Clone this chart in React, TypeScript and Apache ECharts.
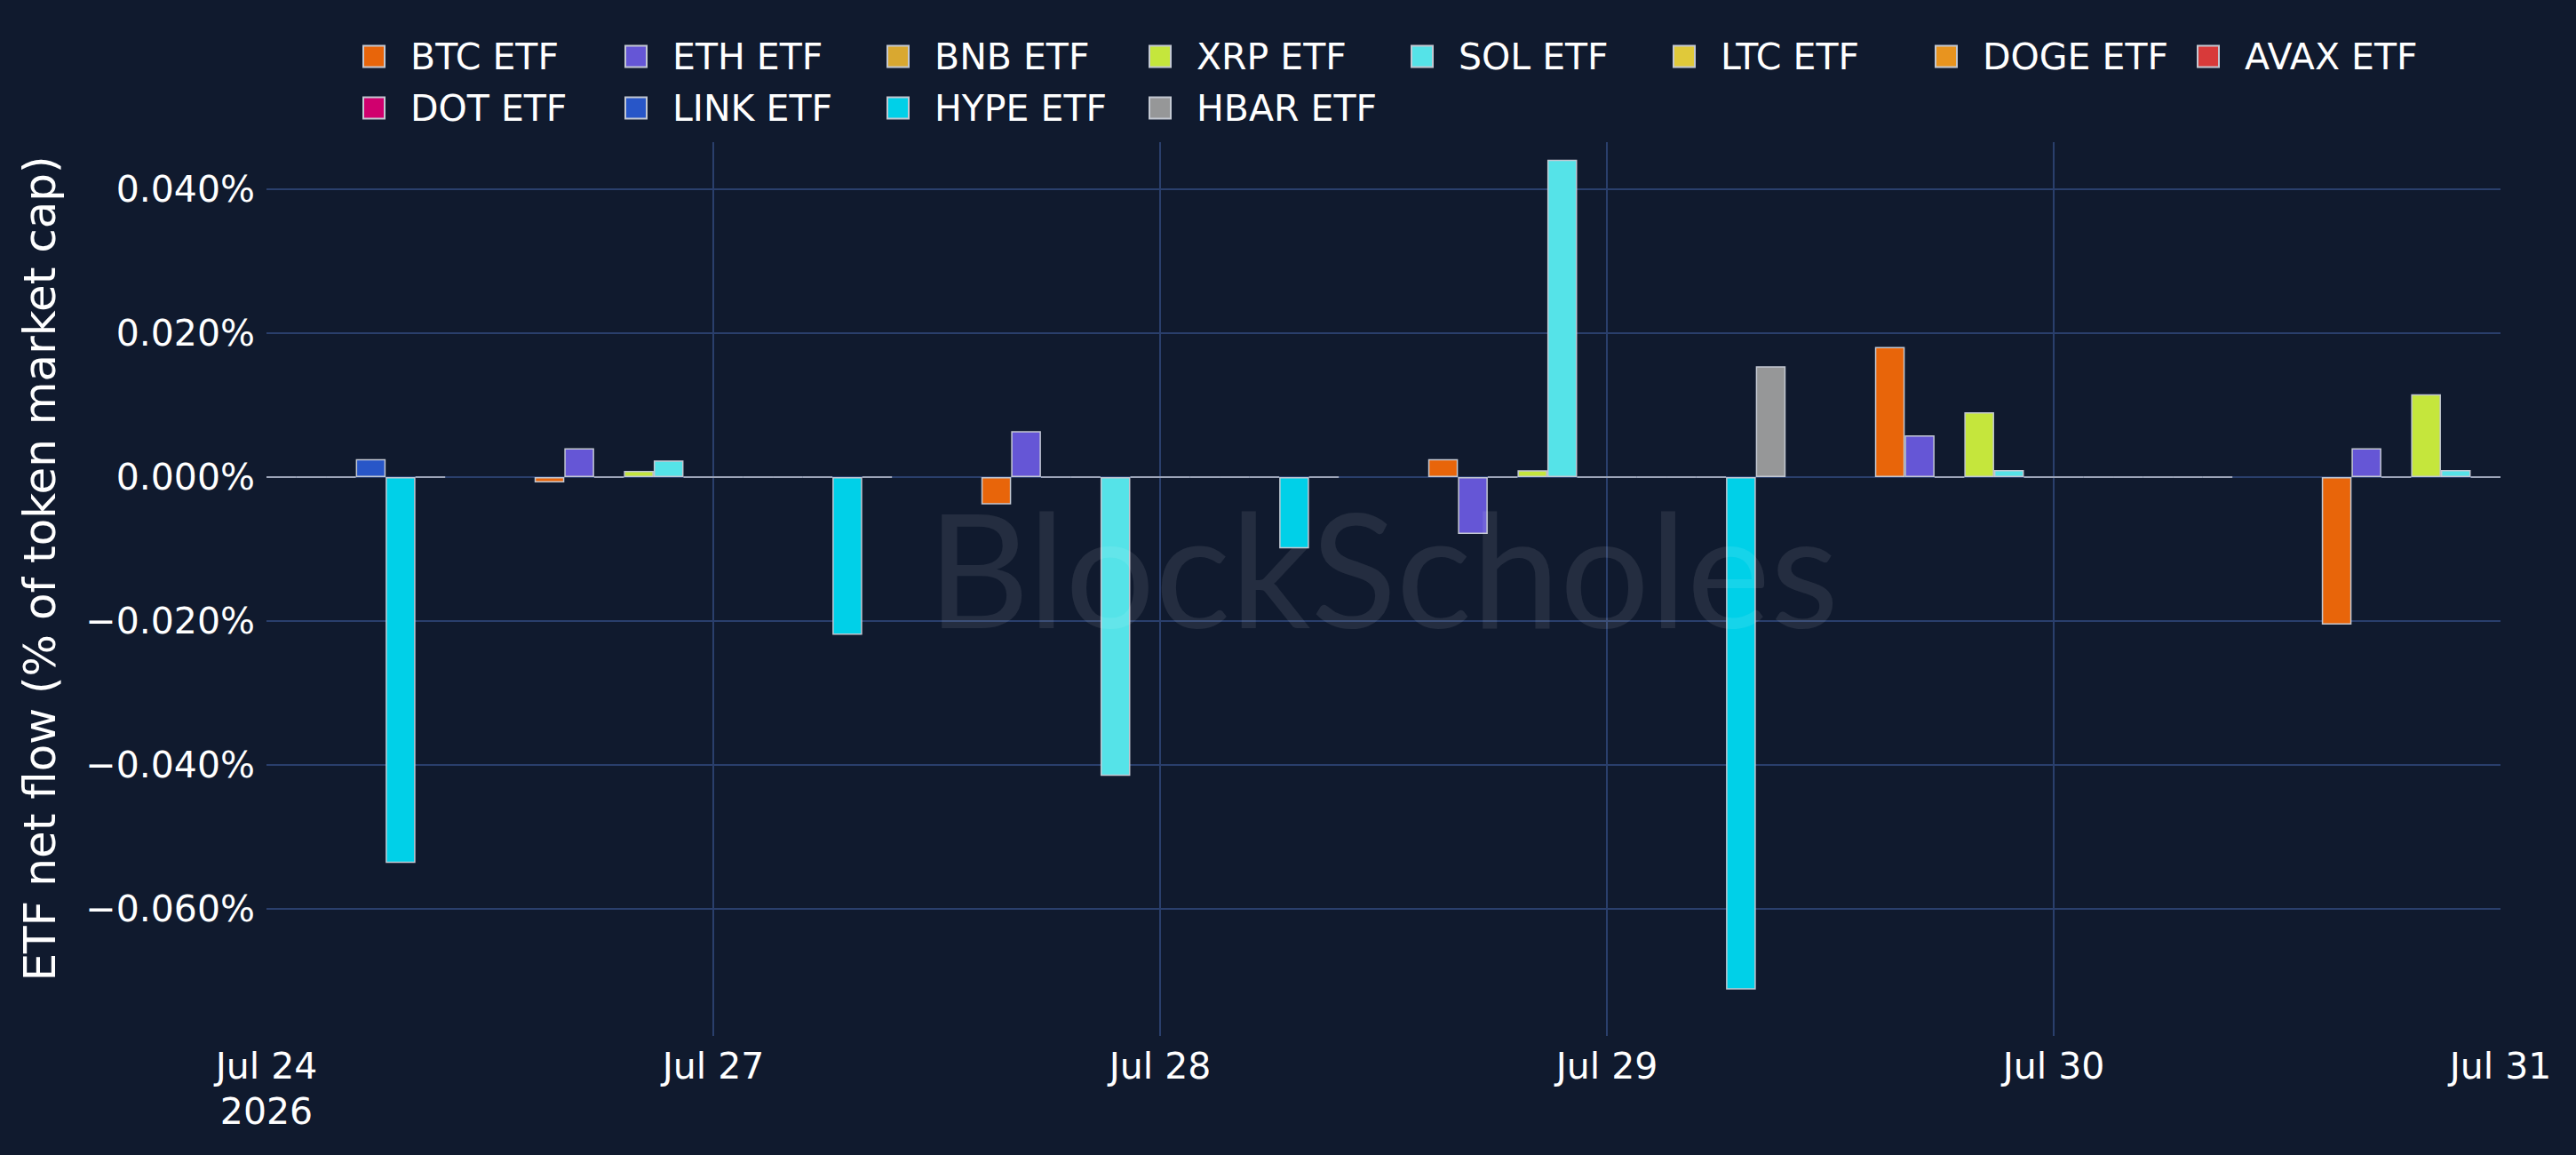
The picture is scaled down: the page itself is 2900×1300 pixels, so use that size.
import React, { useEffect, useRef } from 'react';
import * as echarts from 'echarts';

const categories = ['Jul 24\n2026', 'Jul 27', 'Jul 28', 'Jul 29', 'Jul 30', 'Jul 31'];

const seriesNames = [
    'BTC ETF', 'ETH ETF', 'BNB ETF', 'XRP ETF', 'SOL ETF', 'LTC ETF',
    'DOGE ETF', 'AVAX ETF', 'DOT ETF', 'LINK ETF', 'HYPE ETF', 'HBAR ETF',
];

const seriesColors = [
    '#E8650A', '#6556D6', '#D9A830', '#C5E63C', '#55E3E8', '#E0C93A',
    '#E8941F', '#D83A3A', '#D0006E', '#2856C8', '#00D0E8', '#969798',
];

// net flow, % of token market cap
const btc = [0, -0.00075, -0.0038, 0.0025, 0.0181, -0.0205];
const eth = [0, 0.004, 0.0064, -0.0079, 0.0058, 0.004];
const bnb = [0, 0, 0, 0, 0, 0];
const xrp = [0, 0.00085, 0, 0.00095, 0.009, 0.0115];
const sol = [0, 0.0023, -0.0415, 0.0441, 0.001, 0.001];
const ltc = [0, 0, 0, 0, 0, 0];
const doge = [0, 0, 0, 0, 0, 0];
const avax = [0, 0, 0, 0, 0, 0];
const dot = [0, 0, 0, 0, 0, 0];
const link = [0.0025, 0, 0, 0, 0, 0];
const hype = [-0.0536, -0.0219, -0.0099, -0.0712, 0, 0];
const hbar = [0, 0, 0, 0.0154, 0, 0];

const seriesValues = [btc, eth, bnb, xrp, sol, ltc, doge, avax, dot, link, hype, hbar];

const yMin = -0.07765;
const yMax = 0.04654;

const BG = '#101a2e';
const GRID = '#2a3f6c';
const FONT = 'DejaVu Sans';

const fmtPct = (v: number) => (v < 0 ? '\u2212' : '') + Math.abs(v).toFixed(3) + '%';

const App: React.FC = () => {
    const chartRef = useRef<HTMLDivElement>(null);

    useEffect(() => {
        const chartDom = chartRef.current!;
        const myChart = echarts.init(chartDom, undefined, { renderer: 'svg' });

        const yBase = {
            type: 'value' as const,
            min: yMin,
            max: yMax,
            minInterval: 0.02,
            maxInterval: 0.02,
            position: 'left' as const,
            axisLine: { show: false },
            axisTick: { show: false },
        };

        const option: echarts.EChartsOption = {
            animation: false,
            backgroundColor: BG,
            textStyle: { fontFamily: FONT },
            grid: { left: 300, right: 85, top: 160, bottom: 134, containLabel: false },
            legend: {
                left: 408,
                top: 37,
                width: 2400,
                padding: 0,
                itemGap: 5,
                itemWidth: 24,
                itemHeight: 24,
                icon: 'rect',
                selectedMode: false,
                data: seriesNames,
                textStyle: {
                    color: '#ffffff',
                    fontSize: 41,
                    fontFamily: FONT,
                    width: 236,
                    lineHeight: 53,
                    padding: [0, 0, 0, 24],
                },
            },
            xAxis: {
                type: 'category',
                boundaryGap: false,
                data: categories,
                axisLine: { show: false },
                axisTick: { show: false },
                axisLabel: {
                    interval: 0,
                    color: '#ffffff',
                    fontSize: 41,
                    lineHeight: 51,
                    margin: 8,
                    fontFamily: FONT,
                },
                splitLine: {
                    show: true,
                    interval: (index: number) => index > 0 && index < categories.length - 1,
                    lineStyle: { color: GRID, width: 2 },
                },
            },
            yAxis: [
                {
                    ...yBase,
                    axisLabel: { show: false },
                    splitLine: {
                        show: true,
                        showMinLine: false,
                        showMaxLine: false,
                        lineStyle: { color: GRID, width: 2 },
                    },
                },
                {
                    ...yBase,
                    z: 10,
                    splitLine: { show: false },
                    axisLabel: {
                        color: '#ffffff',
                        fontSize: 41,
                        margin: 13,
                        fontFamily: FONT,
                        showMinLabel: false,
                        showMaxLabel: false,
                        formatter: (v: number) => fmtPct(v),
                    },
                },
            ],
            graphic: [
                {
                    type: 'rect',
                    z: 5,
                    silent: true,
                    shape: { x: 0, y: 150, width: 300, height: 1020 },
                    style: { fill: BG },
                },
                {
                    type: 'rect',
                    z: 5,
                    silent: true,
                    shape: { x: 2815, y: 150, width: 85, height: 1020 },
                    style: { fill: BG },
                },
                {
                    // y axis title
                    type: 'text',
                    z: 12,
                    silent: true,
                    x: 45,
                    y: 640,
                    rotation: Math.PI / 2,
                    style: {
                        text: 'ETF net flow (% of token market cap)',
                        fontSize: 50,
                        fontFamily: FONT,
                        fill: '#ffffff',
                        align: 'center',
                        verticalAlign: 'middle',
                    },
                },
                {
                    // watermark
                    type: 'text',
                    z: 20,
                    silent: true,
                    x: 1557,
                    y: 638,
                    style: {
                        text: 'BlockScholes',
                        fontSize: 178,
                        fontFamily: 'Lato',
                        fill: 'rgba(255,255,255,0.085)',
                        align: 'center',
                        verticalAlign: 'middle',
                    },
                },
            ],
            series: seriesNames.map((name, i) => ({
                name,
                type: 'bar' as const,
                yAxisIndex: 0,
                barGap: '0%',
                barCategoryGap: '20%',
                data: seriesValues[i],
                itemStyle: {
                    color: seriesColors[i],
                    borderColor: '#c3c8d2',
                    borderWidth: 1.5,
                },
                emphasis: { disabled: true },
            })),
        };

        myChart.setOption(option);

        const resizeObserver = new ResizeObserver(() => {
            myChart.resize();
        });
        resizeObserver.observe(chartDom);

        return () => {
            resizeObserver.disconnect();
            myChart.dispose();
        };
    }, []);

    return (
        <div
            ref={chartRef}
            style={{ position: 'fixed', left: 0, top: 0, width: '100vw', height: '100vh' }}
        />
    );
};

export default App;
